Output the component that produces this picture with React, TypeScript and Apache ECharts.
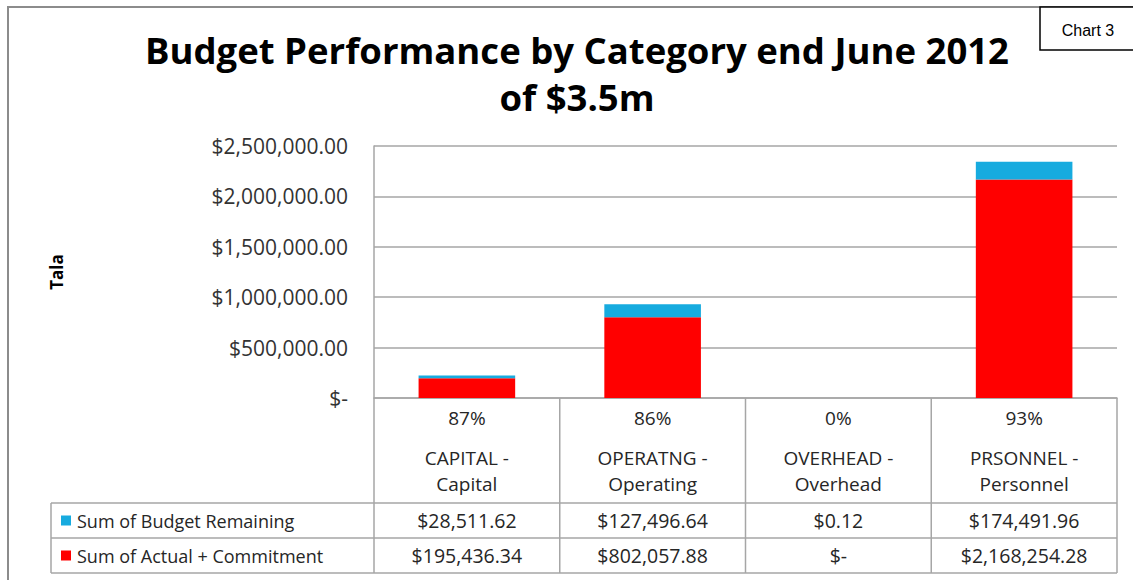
import React, { useEffect, useRef } from "react";
import * as echarts from "echarts";

const categories = ["CAPITAL -\nCapital", "OPERATNG -\nOperating", "OVERHEAD -\nOverhead", "PRSONNEL -\nPersonnel"];
const percentLabels = ["87%", "86%", "0%", "93%"];
const budgetRemaining = [28511.62, 127496.64, 0.12, 174491.96];
const actualCommitment = [195436.34, 802057.88, 0, 2168254.28];
const remainingLabels = ["$28,511.62", "$127,496.64", "$0.12", "$174,491.96"];
const actualLabels = ["$195,436.34", "$802,057.88", "$-", "$2,168,254.28"];
const seriesNames = ["Sum of Budget Remaining", "Sum of Actual + Commitment"];
const seriesColors = ["#17ABDF", "#FF0000"];
const titleLines = ["Budget Performance by Category end June 2012", "of $3.5m"];
const yTicks = { min: 0, max: 2500000, interval: 500000 };

const W = 1133;
const H = 580;
const GL = 374;
const GR = 1117;
const GT = 146;
const GB = 398;
const FONT = "'Open Sans', Lato, sans-serif";
const LINE = "#a6a6a6";
const TXT = "#262626";

function money(v: number) {
  if (v === 0) return "$-";
  return "$" + v.toLocaleString("en-US", { minimumFractionDigits: 2, maximumFractionDigits: 2 });
}

export default function App() {
  const ref = useRef<HTMLDivElement>(null);
  useEffect(() => {
    if (!ref.current) return;
    const chart = echarts.init(ref.current, null, { renderer: "svg" });
    const n = categories.length;
    const colW = (GR - GL) / n;
    const rowTops = [503, 538, 573];
    const graphics: any[] = [];
    // outer border
    graphics.push({ type: "rect", shape: { x: 8, y: 7, width: 1140, height: 600 }, style: { fill: "none", stroke: "#8c8c8c", lineWidth: 2 }, z: 10 });
    // chart 3 box
    graphics.push({ type: "rect", shape: { x: 1040, y: 7, width: 100, height: 43 }, style: { fill: "#fff", stroke: "#000", lineWidth: 1.5 }, z: 11 });
    graphics.push({ type: "text", x: 1088, y: 30, style: { text: "Chart 3", font: "16px 'Liberation Sans Narrow', 'Liberation Sans', sans-serif", fill: "#000", align: "center", verticalAlign: "middle" }, z: 12 });
    // title
    titleLines.forEach((t, i) => {
      graphics.push({ type: "text", x: 577, y: 50 + i * 47, style: { text: t, font: `bold 36.5px ${FONT}`, fill: "#000", align: "center", verticalAlign: "middle" }, z: 12 });
    });
    // table lines
    rowTops.forEach((y) => {
      graphics.push({ type: "line", shape: { x1: 51, y1: y, x2: GR, y2: y }, style: { stroke: LINE, lineWidth: 1.5 }, z: 5 });
    });
    graphics.push({ type: "line", shape: { x1: 51, y1: rowTops[0], x2: 51, y2: rowTops[2] }, style: { stroke: LINE, lineWidth: 1.5 }, z: 5 });
    for (let i = 0; i <= n; i++) {
      const x = GL + i * colW;
      graphics.push({ type: "line", shape: { x1: x, y1: GB, x2: x, y2: rowTops[2] }, style: { stroke: LINE, lineWidth: 1.5 }, z: 5 });
    }
    // legend keys + values
    const rowsLabels = [remainingLabels, actualLabels];
    seriesNames.forEach((name, r) => {
      const cy = (rowTops[r] + rowTops[r + 1]) / 2;
      graphics.push({ type: "rect", shape: { x: 61, y: cy - 5, width: 10, height: 10 }, style: { fill: seriesColors[r] }, z: 6 });
      graphics.push({ type: "text", x: 77, y: cy, style: { text: name, font: `18px ${FONT}`, fill: TXT, align: "left", verticalAlign: "middle" }, z: 6 });
      rowsLabels[r].forEach((lab, c) => {
        graphics.push({ type: "text", x: GL + (c + 0.5) * colW, y: cy, style: { text: lab, font: `19.5px ${FONT}`, fill: TXT, align: "center", verticalAlign: "middle" }, z: 6 });
      });
    });

    chart.setOption({
      animation: false,
      backgroundColor: "#ffffff",
      grid: { left: GL, right: W - GR, top: GT, bottom: H - GB, containLabel: false },
      xAxis: {
        type: "category",
        data: categories,
        axisLine: { show: true, lineStyle: { color: LINE, width: 1.5 } },
        axisTick: { show: false },
        axisLabel: {
          margin: -7,
          interval: 0,
          formatter: (v: string, i: number) => {
            const parts = v.split("\n");
            return `{p|${percentLabels[i]}}\n` + parts.map((p) => `{c|${p}}`).join("\n");
          },
          rich: {
            p: { fontSize: 19, fontFamily: FONT, color: TXT, lineHeight: 54 },
            c: { fontSize: 19, fontFamily: FONT, color: TXT, lineHeight: 26 },
          },
        },
      },
      yAxis: {
        type: "value",
        min: yTicks.min,
        max: yTicks.max,
        interval: yTicks.interval,
        name: "Tala",
        nameLocation: "middle",
        nameGap: 309,
        nameTextStyle: { fontSize: 17, fontWeight: "bold", fontFamily: FONT, color: "#000" },
        axisLine: { show: true, lineStyle: { color: LINE, width: 1.5 } },
        axisTick: { show: false },
        splitLine: { show: true, lineStyle: { color: LINE, width: 1.5 } },
        axisLabel: { margin: 26, fontSize: 21, fontFamily: FONT, color: "#333", formatter: (v: number) => money(v) },
      },
      series: [
        { name: seriesNames[1], type: "bar", stack: "s", data: actualCommitment, itemStyle: { color: seriesColors[1] }, barWidth: "52%" },
        { name: seriesNames[0], type: "bar", stack: "s", data: budgetRemaining, itemStyle: { color: seriesColors[0] }, barWidth: "52%" },
      ],
      graphic: graphics,
    });
    return () => chart.dispose();
  }, []);
  return <div ref={ref} style={{ position: "fixed", left: 0, top: 0, width: W, height: H }} />;
}
